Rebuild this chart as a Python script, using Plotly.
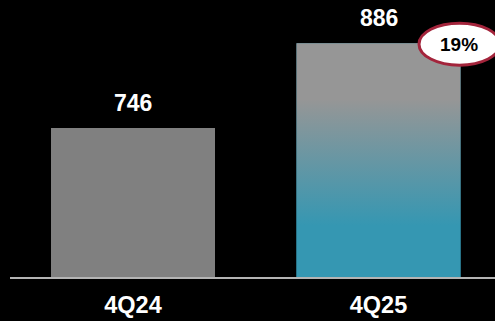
import plotly.graph_objects as go

# Quarterly values
quarters = ["4Q24", "4Q25"]
values = [746, 886]
growth_label = "19%"

Y_MIN = 500
BAR_WIDTH = 0.668
FONT = "Arial, Liberation Sans, sans-serif"

GRAY = "#808080"
GRAD_TOP = "#969696"
GRAD_BOTTOM = "#3597b2"
BADGE_RED = "#a3243b"

xs = list(range(len(quarters)))

fig = go.Figure()

# Base bars
fig.add_trace(go.Bar(
    x=xs, y=values, width=BAR_WIDTH,
    marker=dict(color=[GRAY, GRAD_BOTTOM], line=dict(width=0)),
    hoverinfo="skip", showlegend=False,
))

# Gradient fill over the latest-quarter bar
i = len(values) - 1
x_left, x_right = xs[i] - BAR_WIDTH / 2, xs[i] + BAR_WIDTH / 2
fig.add_trace(go.Scatter(
    x=[x_left, x_right, x_right, x_left, x_left],
    y=[Y_MIN, Y_MIN, values[i], values[i], Y_MIN],
    mode="lines", line=dict(width=0), fill="toself",
    fillgradient=dict(
        type="vertical", start=Y_MIN, stop=values[i],
        colorscale=[[0, GRAD_BOTTOM], [0.22, GRAD_BOTTOM], [0.76, GRAD_TOP], [1, GRAD_TOP]],
    ),
    hoverinfo="skip", showlegend=False,
))

# Value labels above bars
for x, v in zip(xs, values):
    fig.add_annotation(
        x=x, y=v, text=f"<b>{v}</b>", showarrow=False,
        yanchor="middle", yshift=25,
        font=dict(family=FONT, size=23, color="white"),
    )

# Growth badge at the top-right corner of the latest bar
fig.add_shape(
    type="circle", xref="x", yref="y",
    xsizemode="pixel", ysizemode="pixel",
    xanchor=xs[i], yanchor=values[i],
    x0=40.5, x1=121.5, y0=-22, y1=20,
    fillcolor="white", line=dict(color=BADGE_RED, width=3),
    layer="above",
)
fig.add_annotation(
    x=xs[i], y=values[i], text=f"<b>{growth_label}</b>", showarrow=False,
    xshift=80.5, yshift=-1,
    font=dict(family=FONT, size=19, color="black"),
)

fig.update_layout(
    width=495, height=321,
    margin=dict(l=10, r=0, t=20, b=43.5, autoexpand=False),
    paper_bgcolor="black", plot_bgcolor="black",
    bargap=0.332,
    xaxis=dict(
        range=[-0.501, 1.4745], tickvals=xs, ticktext=[f"<b>{q}</b>" for q in quarters],
        showgrid=False, zeroline=False, showline=True, linecolor="#b4b4b4", linewidth=2,
        ticks="", ticklabelstandoff=6, automargin=False,
        tickfont=dict(family=FONT, size=23.5, color="white"),
    ),
    yaxis=dict(
        range=[Y_MIN, 924.2], visible=False, showgrid=False, zeroline=False,
        automargin=False,
    ),
)

fig.write_html("out.html")
